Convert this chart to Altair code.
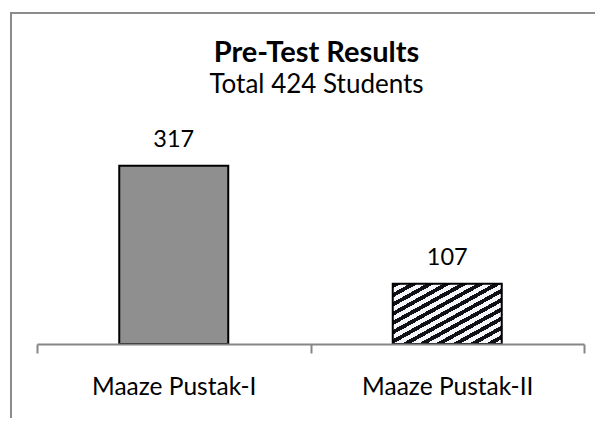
import altair as alt
import pandas as pd

categories = ["Maaze Pustak-I", "Maaze Pustak-II"]
students = [317, 107]
title_text = "Pre-Test Results"
subtitle_text = "Total 424 Students"

df = pd.DataFrame({"book": categories, "students": students})

# diagonal hatch fill built from hard gradient stops (style only)
N_STRIPES = 13
DARK, LIGHT = "#101018", "#f4f6fa"
stops = []
for i in range(N_STRIPES):
    a = i / N_STRIPES
    b = (i + 0.48) / N_STRIPES
    c = (i + 1) / N_STRIPES
    stops += [
        alt.GradientStop(color=DARK, offset=a),
        alt.GradientStop(color=DARK, offset=b),
        alt.GradientStop(color=LIGHT, offset=b),
        alt.GradientStop(color=LIGHT, offset=c),
    ]
stripes = alt.LinearGradient(gradient="linear", stops=stops, x1=0, y1=0, x2=1, y2=1)

x_enc = alt.X(
    "book:N",
    sort=categories,
    title=None,
    scale=alt.Scale(paddingInner=0, paddingOuter=0),
    axis=alt.Axis(
        tickBand="extent",
        labelAngle=0,
        labelFont="Lato",
        labelFontSize=24.5,
        labelColor="#000000",
        labelPadding=41,
        labelBaseline="alphabetic",
        labelLimit=400,
        tickSize=9,
        tickWidth=2,
        tickColor="#868686",
        domainColor="#868686",
        domainWidth=2,
        zindex=1,
    ),
)
y_enc = alt.Y("students:Q", scale=alt.Scale(domain=[0, 400]), axis=None)

base = alt.Chart(df)

bar1 = base.transform_filter(alt.datum.book == categories[0]).mark_bar(
    size=109, fill="#8f8f8f", stroke="#000000", strokeWidth=2
).encode(x=x_enc, y=y_enc)

bar2 = base.transform_filter(alt.datum.book == categories[1]).mark_bar(
    size=109, fill=stripes, stroke="#000000", strokeWidth=2
).encode(x=x_enc, y=y_enc)

labels = base.mark_text(
    baseline="alphabetic", dy=-19, font="Lato", fontSize=23.5, color="#000000"
).encode(x=x_enc, y=y_enc, text="students:Q")

one = pd.DataFrame({"f": [0]})
frame_left = alt.Chart(one).mark_rule(color="#8c8c8c", strokeWidth=2).encode(
    x=alt.value(-26), y=alt.value(-107), y2=alt.value(400)
)
frame_top = alt.Chart(one).mark_rule(color="#8c8c8c", strokeWidth=2).encode(
    x=alt.value(-27), x2=alt.value(620), y=alt.value(-106)
)

chart = alt.layer(frame_left, frame_top, bar1, bar2, labels).properties(
    width=547,
    height=225,
    title=alt.TitleParams(
        text=title_text,
        subtitle=subtitle_text,
        font="Lato",
        fontSize=29,
        fontWeight="bold",
        color="#000000",
        subtitleFont="Lato",
        subtitleFontSize=26,
        subtitleColor="#000000",
        subtitlePadding=3.5,
        anchor="middle",
        frame="group",
        offset=-86.5,
        dx=6,
    ),
    autosize=alt.AutoSizeParams(type="none"),
    padding={"left": 29, "top": 111, "right": 11, "bottom": 74},
).configure_view(stroke=None)

chart.save("out.html", embed_options={"renderer": "svg", "actions": False})
